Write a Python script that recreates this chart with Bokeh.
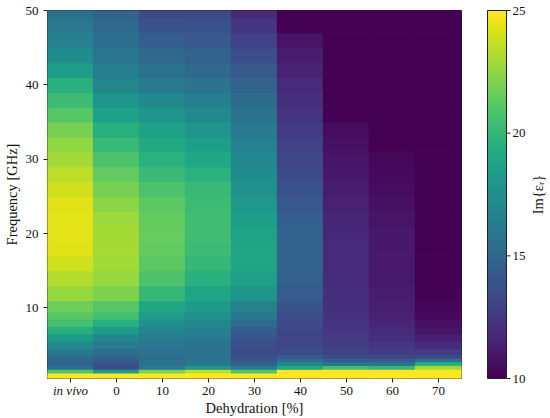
import math
import numpy as np
from bokeh.plotting import figure
from bokeh.layouts import row, column
from bokeh.models import (LinearColorMapper, FixedTicker, ColumnDataSource, Range1d)
from bokeh.core.properties import value
from bokeh.palettes import Viridis256
from bokeh.embed import file_html
from bokeh.resources import INLINE

# ---------------- data ----------------
dehydration_labels = ["in vivo", "0", "10", "20", "30", "40", "50", "60", "70"]

frequency_ghz = [0.5, 1.0, 1.5, 2.0, 2.5, 3.0, 3.5, 4, 5, 6, 7, 8, 9, 10,
                 12, 14, 16, 18, 20, 22, 24, 26, 28, 30, 32, 34, 36, 38,
                 40, 42, 44, 46, 48, 50]

im_in_vivo = [27.0, 25.5, 21.0, 15.5, 14.9, 15.0, 15.4, 16.0, 17.1, 18.2, 19.4, 20.5, 21.1, 21.7,
              22.6, 23.3, 23.9, 24.3, 24.4, 24.4, 24.3, 23.9, 23.5, 22.9, 22.5, 21.9, 21.1, 20.3,
              19.5, 18.4, 17.3, 16.6, 16.0, 15.5]
im_dh_0 = [27.0, 25.5, 18.3, 13.6, 13.8, 14.3, 15.0, 15.4, 16.1, 16.9, 18.3, 19.4, 20.5, 21.1,
           22.1, 22.7, 22.9, 23.0, 23.0, 22.8, 22.4, 21.9, 21.4, 20.8, 20.1, 19.4, 18.6, 17.8,
           16.9, 16.4, 15.9, 15.5, 15.1, 14.8]
im_dh_10 = [27.0, 25.5, 22.0, 16.3, 15.6, 15.5, 15.5, 15.6, 15.9, 16.3, 16.9, 17.6, 18.3, 19.0,
            20.0, 20.8, 21.2, 21.4, 21.5, 21.4, 21.2, 20.8, 20.2, 19.6, 19.1, 18.6, 17.9, 17.0,
            16.1, 15.6, 15.1, 14.5, 13.9, 13.3]
im_dh_20 = [27.0, 25.5, 23.5, 17.8, 16.2, 15.7, 15.6, 15.6, 15.7, 16.1, 16.6, 17.0, 17.6, 18.2,
            18.8, 19.5, 20.0, 20.3, 20.4, 20.4, 20.3, 20.1, 19.6, 19.0, 18.4, 17.8, 17.2, 16.5,
            15.7, 15.2, 14.7, 14.2, 13.8, 13.3]
im_dh_30 = [27.0, 25.5, 21.0, 16.0, 14.8, 14.0, 13.6, 13.5, 13.6, 13.9, 14.4, 15.3, 16.0, 16.7,
            17.8, 18.5, 18.8, 18.8, 18.7, 18.4, 18.0, 17.6, 17.3, 17.0, 16.6, 16.2, 15.8, 15.3,
            14.8, 14.2, 13.6, 13.0, 12.4, 11.8]
im_dh_40 = [27.0, 26.0, 25.2, 19.0, 17.0, 15.3, 14.2, 13.6, 13.2, 13.1, 13.2, 13.3, 13.6, 13.9,
            14.3, 14.6, 14.8, 14.8, 14.8, 14.5, 14.1, 13.8, 13.5, 13.2, 12.9, 12.6, 12.3, 12.1,
            11.8, 11.5, 11.2, 10.8, 9.5, 9.3]
im_dh_50 = [27.0, 26.0, 25.3, 20.5, 15.8, 14.5, 13.5, 13.1, 12.8, 12.6, 12.4, 12.3, 12.2, 12.1,
            12.0, 11.9, 11.8, 11.8, 11.7, 11.6, 11.4, 11.2, 11.0, 10.9, 10.7, 10.5, 9.6, 9.5,
            9.5, 9.4, 9.4, 9.3, 9.3, 9.2]
im_dh_60 = [27.0, 26.0, 25.3, 20.0, 15.8, 14.2, 13.2, 12.8, 12.4, 12.0, 11.8, 11.6, 11.4, 11.3,
            11.2, 11.1, 11.1, 11.0, 11.0, 10.8, 10.7, 10.5, 10.4, 10.3, 9.4, 9.4, 9.4, 9.4,
            9.4, 9.4, 9.4, 9.4, 9.4, 9.4]
im_dh_70 = [27.0, 26.0, 25.2, 23.0, 19.5, 15.5, 13.4, 12.6, 11.8, 11.3, 10.9, 10.6, 10.4, 10.2,
            10.1, 9.6, 9.4, 9.3, 9.3, 9.3, 9.3, 9.3, 9.3, 9.3, 9.3, 9.3, 9.3, 9.3,
            9.3, 9.3, 9.3, 9.3, 9.3, 9.3]

columns = [im_in_vivo, im_dh_0, im_dh_10, im_dh_20, im_dh_30,
           im_dh_40, im_dh_50, im_dh_60, im_dh_70]

y_ticks = [10, 20, 30, 40, 50]
cbar_ticks = [10, 15, 20, 25]
c_low, c_high = 10, 25
f_min, f_max = 0.5, 50

x_label = "Dehydration [%]"
y_label = "Frequency [GHz]"
c_label = "Im{\u03b5\u1d63}"

# ---------------- layout constants (pixels) ----------------
W, H = 550, 418
MAIN_W, MAIN_H = 480, 384
FRAME_L, FRAME_T, FRAME_B_PAD, FRAME_R_PAD = 46, 10, 6, 19
FONT = "Liberation Serif"
TXT = "#111111"
EDGE = "#222222"

# ---------------- heatmap cells ----------------
edges = [f_min] + [(a + b) / 2 for a, b in zip(frequency_ghz[:-1], frequency_ghz[1:])] + [f_max]
left, right, bottom, top, val = [], [], [], [], []
for j, col in enumerate(columns):
    for i, v in enumerate(col):
        left.append(j - 0.5)
        right.append(j + 0.5)
        bottom.append(edges[i])
        top.append(edges[i + 1])
        val.append(v)
src = ColumnDataSource(dict(left=left, right=right, bottom=bottom, top=top, value=val))

mapper = LinearColorMapper(palette=Viridis256, low=c_low, high=c_high)

x_rng = Range1d(-0.5, len(columns) - 0.5)
p = figure(width=MAIN_W, height=MAIN_H, output_backend="svg", toolbar_location=None,
           x_range=x_rng, y_range=Range1d(f_min, f_max),
           min_border_top=FRAME_T, min_border_left=FRAME_L,
           min_border_bottom=FRAME_B_PAD, min_border_right=FRAME_R_PAD)

p.quad(left="left", right="right", bottom="bottom", top="top", source=src,
       fill_color={"field": "value", "transform": mapper},
       line_color={"field": "value", "transform": mapper}, line_width=1.2)

p.grid.visible = False
p.outline_line_color = EDGE
p.outline_line_width = 1
p.background_fill_color = None
p.border_fill_color = None

for ax in (p.xaxis[0], p.yaxis[0]):
    ax.axis_line_color = None
    ax.major_tick_out = 4
    ax.major_tick_in = 0
    ax.minor_tick_line_color = None
    ax.major_tick_line_color = EDGE
    ax.major_label_text_font = FONT
    ax.major_label_text_font_size = "13px"
    ax.major_label_text_color = TXT
    ax.axis_label_text_font = FONT
    ax.axis_label_text_font_size = "14.5px"
    ax.axis_label_text_font_style = "normal"
    ax.axis_label_text_color = TXT

# x axis: ticks only (labels drawn in the strip below so "in vivo" can be italic)
p.xaxis.ticker = FixedTicker(ticks=list(range(len(dehydration_labels))))
p.xaxis.major_label_overrides = {i: "" for i in range(len(dehydration_labels))}
p.xaxis.major_label_text_font_size = "1px"
p.xaxis.major_label_standoff = 0

p.yaxis.ticker = FixedTicker(ticks=y_ticks)
p.yaxis.axis_label = y_label
p.yaxis.major_label_standoff = 5
p.yaxis.axis_label_standoff = 3

# ---------------- strip below: tick labels + x label ----------------
BOT_H = H - MAIN_H
pb = figure(width=MAIN_W, height=BOT_H, output_backend="svg", toolbar_location=None,
            x_range=x_rng, y_range=Range1d(0, BOT_H),
            x_axis_location=None, y_axis_location=None,
            min_border_top=0, min_border_bottom=0,
            min_border_left=FRAME_L, min_border_right=FRAME_R_PAD)
pb.grid.visible = False
pb.outline_line_color = None
pb.background_fill_color = None
pb.border_fill_color = None

tick_src = ColumnDataSource(dict(
    x=list(range(len(dehydration_labels))),
    y=[BOT_H - 6] * len(dehydration_labels),
    text=dehydration_labels,
    style=["italic" if t == "in vivo" else "normal" for t in dehydration_labels]))
pb.text(x="x", y="y", text="text", source=tick_src, text_font=value(FONT),
        text_font_size="13px", text_font_style="style", text_color=TXT,
        text_align="center", text_baseline="middle")
pb.text(x=[(len(columns) - 1) / 2], y=[11], text=[x_label], text_font=value(FONT),
        text_font_size="14.5px", text_color=TXT,
        text_align="center", text_baseline="middle")

# ---------------- colour bar figure ----------------
CB_W = W - MAIN_W
frame_top_px = FRAME_T
frame_bot_px = MAIN_H - FRAME_B_PAD
per_px = (c_high - c_low) / (frame_bot_px - frame_top_px)
cb_y0 = c_low - (H - frame_bot_px) * per_px
cb_y1 = c_high + frame_top_px * per_px
pc = figure(width=CB_W, height=H, output_backend="svg", toolbar_location=None,
            x_range=Range1d(0, CB_W), y_range=Range1d(cb_y0, cb_y1),
            x_axis_location=None, y_axis_location=None,
            min_border=0)
pc.grid.visible = False
pc.outline_line_color = None
pc.background_fill_color = None
pc.border_fill_color = None

BAR_X0, BAR_W = 7, 19
levels = np.linspace(c_low, c_high, 256).reshape(256, 1)
pc.image(image=[levels], x=BAR_X0, y=c_low, dw=BAR_W, dh=c_high - c_low,
         color_mapper=mapper)
pc.quad(left=[BAR_X0], right=[BAR_X0 + BAR_W], bottom=[c_low], top=[c_high],
        fill_color=None, line_color=EDGE, line_width=1)
pc.segment(x0=[BAR_X0 + BAR_W] * len(cbar_ticks), x1=[BAR_X0 + BAR_W + 4] * len(cbar_ticks),
           y0=cbar_ticks, y1=cbar_ticks, line_color=EDGE, line_width=1)
pc.text(x=[BAR_X0 + BAR_W + 6] * len(cbar_ticks), y=cbar_ticks,
        text=[str(t) for t in cbar_ticks], text_font=value(FONT), text_font_size="13px",
        text_color=TXT, text_align="left", text_baseline="middle")
pc.text(x=[57], y=[(c_low + c_high) / 2], text=[c_label], angle=math.pi / 2,
        text_font=value(FONT), text_font_size="14.5px", text_color=TXT,
        text_align="center", text_baseline="middle")

layout = row(column(p, pb), pc)
open("out.html", "w").write(file_html(layout, INLINE))
